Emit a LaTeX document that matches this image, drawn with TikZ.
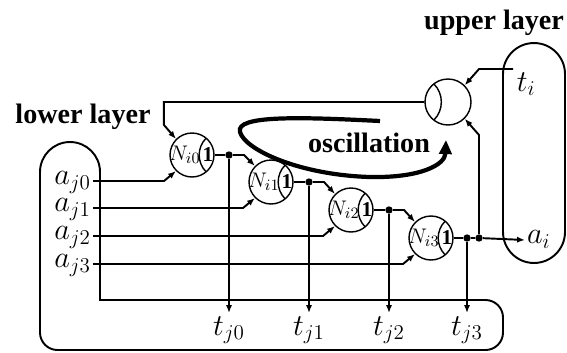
\documentclass[tikz,border=0pt]{standalone}
\usepackage{fontspec}
\setmainfont{Liberation Serif}
\usepackage{amsmath}
\usepackage{tikz}
\usetikzlibrary{arrows.meta,calc}
\tikzset{
  wire/.style={line width=1.1pt},
  wirearrow/.style={wire, -{Latex[length=4.5pt,width=3.5pt]}},
  neuron/.style={circle, draw, line width=0.8pt, minimum size=0.88cm, inner sep=0pt, font=\fontsize{13}{15}\selectfont,
    path picture={
      \draw[line width=0.8pt] ([shift={(50:0.44cm)}]path picture bounding box.center) to[bend right=45] ([shift={(-50:0.44cm)}]path picture bounding box.center);
      \node[font=\fontsize{12}{14}\selectfont, inner sep=0pt] at ([xshift=0.32cm]path picture bounding box.center) {$\mathbf{1}$};
    }},
  comparator/.style={circle, draw, line width=0.8pt, minimum size=0.92cm, inner sep=0pt,
    path picture={
      \draw[line width=0.8pt] ([shift={(128:0.46cm)}]path picture bounding box.center) to[bend left=45] ([shift={(232:0.46cm)}]path picture bounding box.center);
    }},
  junction/.style={circle, fill, inner sep=0pt, minimum size=4.2pt},
  varlabel/.style={font=\fontsize{17}{20}\selectfont, inner sep=1pt, text height=8pt, text depth=4pt},
  timelabel/.style={varlabel, inner sep=2pt, text height=10.5pt},
  layertext/.style={font=\fontsize{16}{19}\selectfont\bfseries},
  layerline/.style={line width=1.1pt},
  oscarrow/.style={line width=2.4pt, -{Triangle[length=8pt,width=7pt]}}
}

\begin{document}
\begin{tikzpicture}[x=0.02cm, y=0.02cm]
    \useasboundingbox (0,0) rectangle (567,-352);

    \node[layertext] (upperlbl) at (494,-23) {upper layer};
    \node[layertext] (lowerlbl) at (83,-117) {lower layer};
    \node[draw, layerline, rounded corners=0.62cm, minimum width=1.24cm, minimum height=4.4cm, inner sep=0pt] (upper) at (534,-153) {};
    \draw[layerline] (100,-172) arc[start angle=0, end angle=180, radius=0.6cm]
      [rounded corners=0.35cm] -- (40,-350) -- (503,-350) -- (503,-300) [sharp corners] -- (100,-300) -- cycle;

    \node[comparator] (cmp) at (448,-102) {};
    \node[neuron] (n0) at (192,-155) {\hspace*{-0.28cm}$N_{i0}$};
    \node[neuron] (n1) at (271,-182) {\hspace*{-0.28cm}$N_{i1}$};
    \node[neuron] (n2) at (351,-210) {\hspace*{-0.28cm}$N_{i2}$};
    \node[neuron] (n3) at (431,-238) {\hspace*{-0.28cm}$N_{i3}$};

    \node[varlabel, anchor=east] (a0) at (93,-181) {$a_{j0}$};
    \node[varlabel, anchor=east] (a1) at (93,-208) {$a_{j1}$};
    \node[varlabel, anchor=east] (a2) at (93,-236) {$a_{j2}$};
    \node[varlabel, anchor=east] (a3) at (93,-264) {$a_{j3}$};
    \node[timelabel, anchor=north] (t0) at (229,-313) {$t_{j0}$};
    \node[timelabel, anchor=north] (t1) at (309,-313) {$t_{j1}$};
    \node[timelabel, anchor=north] (t2) at (389,-313) {$t_{j2}$};
    \node[timelabel, anchor=north] (t3) at (467,-313) {$t_{j3}$};
    \node[timelabel, anchor=north west] (ti) at (513,-69) {$t_i$};
    \node[varlabel, anchor=west] (ai) at (525,-240) {$a_i$};

    \node[junction] (d0) at (229,-155) {};
    \node[junction] (d1) at (309,-182) {};
    \node[junction] (d2) at (389,-210) {};
    \node[junction] (d3) at (467,-238) {};
    \node[junction] (d4) at (479,-238) {};

    \draw[wirearrow] (cmp.west) -| ([shift={(-12,14)}]n0.135) -- (n0.135);
    \draw[wirearrow] (a0.east) -- ++(71,0) -- (n0.225);
    \draw[wirearrow] (a1.east) -- ++(150,0) -- (n1.225);
    \draw[wirearrow] (a2.east) -- ++(230,0) -- (n2.225);
    \draw[wirearrow] (a3.east) -- ++(310,0) -- (n3.225);

    \draw[wire] (n0.east) -- (d0);
    \draw[wirearrow] (d0) -- ++(15,0) -- (n1.135);
    \draw[wire] (n1.east) -- (d1);
    \draw[wirearrow] (d1) -- ++(15,0) -- (n2.135);
    \draw[wire] (n2.east) -- (d2);
    \draw[wirearrow] (d2) -- ++(15,0) -- (n3.135);
    \draw[wire] (n3.east) -- (d3) -- (d4);
    \draw[wirearrow] (d4) -- (ai.west);

    \draw[wirearrow] (d0) -- (t0.north);
    \draw[wirearrow] (d1) -- (t1.north);
    \draw[wirearrow] (d2) -- (t2.north);
    \draw[wirearrow] (d3) -- (t3.north);

    \draw[wirearrow] (d4) -- ++(0,103) -- (cmp.-45);
    \draw[wirearrow] (ti.north west) -- ++(-34,0) -- (cmp.45);

    \node[layertext] (osclbl) at (369,-143) {oscillation};
    \draw[oscarrow] (380,-121) .. controls (300,-117) and (235,-115) .. (240,-132)
      .. controls (245,-150) and (300,-175) .. (370,-177)
      .. controls (420,-178) and (445,-165) .. (446,-140);
\end{tikzpicture}
\end{document}
